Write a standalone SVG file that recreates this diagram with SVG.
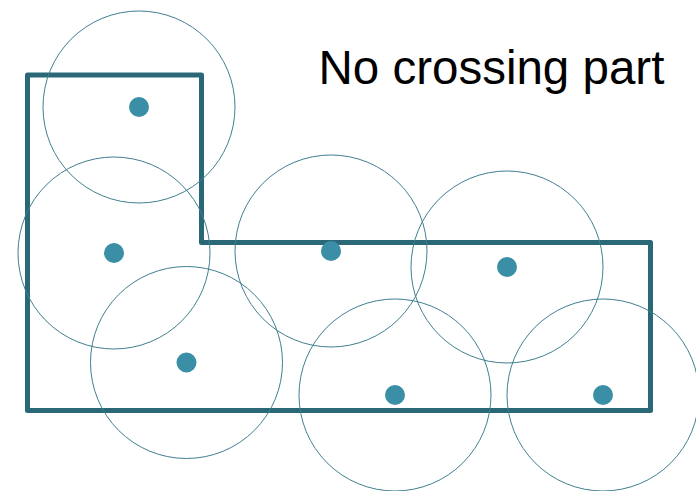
<svg xmlns="http://www.w3.org/2000/svg" width="696" height="491" viewBox="0 0 696 491">
<style>
.range{fill:none;stroke:#3f7f8f;stroke-width:1}
.dot{fill:#3a8fa6}
.poly{fill:none;stroke:#2a6878;stroke-width:5;stroke-linejoin:round}
.title{font-family:"Liberation Sans",Arial,sans-serif;font-size:47.5px;fill:#000}
</style>
<rect width="696" height="491" fill="#fff"/>
<g id="region">
<path class="poly" d="M27.5,75 L201.5,75 L201.5,242.5 L650.5,242.5 L650.5,410.5 L27.5,410.5 Z"/>
</g>
<g id="connectors"></g>
<g id="node1"><circle class="range" cx="139" cy="107" r="96"/><circle class="dot" cx="139" cy="107" r="10"/></g>
<g id="node2"><circle class="range" cx="114" cy="253" r="96"/><circle class="dot" cx="114" cy="253" r="10"/></g>
<g id="node3"><circle class="range" cx="186.5" cy="362.5" r="96"/><circle class="dot" cx="186.5" cy="362.5" r="10"/></g>
<g id="node4"><circle class="range" cx="331" cy="251" r="96"/><circle class="dot" cx="331" cy="251" r="10"/></g>
<g id="node5"><circle class="range" cx="507" cy="267" r="96"/><circle class="dot" cx="507" cy="267" r="10"/></g>
<g id="node6"><circle class="range" cx="395" cy="395" r="96"/><circle class="dot" cx="395" cy="395" r="10"/></g>
<g id="node7"><circle class="range" cx="603" cy="395" r="96"/><circle class="dot" cx="603" cy="395" r="10"/></g>
<text class="title" x="318.5" y="83.5">No crossing part</text>
</svg>
